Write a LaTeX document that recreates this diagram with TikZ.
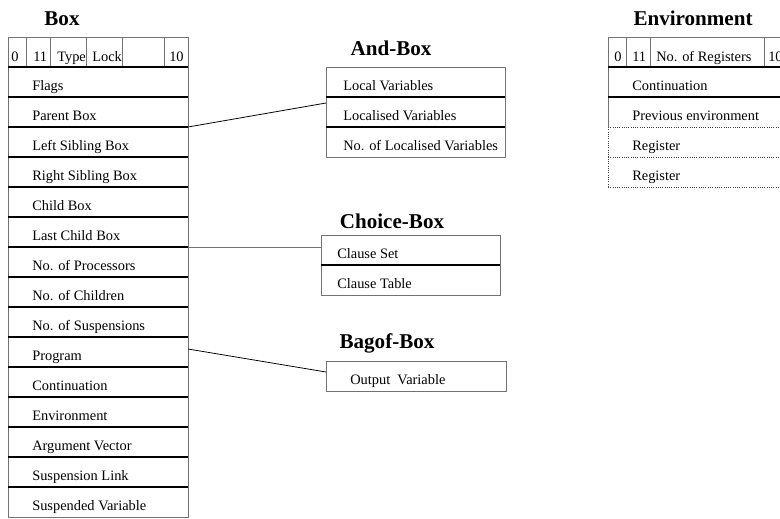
\documentclass[tikz,border=0pt]{standalone}
\usepackage{fontspec}
\setmainfont{Liberation Serif}
\usetikzlibrary{calc}
\tikzset{
  frame/.style={draw=black!55,line width=0.7pt},
  sep/.style={draw=black,line width=1.1pt},
  regline/.style={draw=black!75,densely dotted,line width=0.7pt},
  link/.style={draw=black,line width=0.6pt},
  field/.style={anchor=base west,inner sep=0pt,font=\fontsize{10.8}{13}\selectfont},
  title/.style={anchor=base,inner sep=0pt,font=\fontsize{15.8}{19}\selectfont\bfseries}
}
\begin{document}
\begin{tikzpicture}[x=0.75pt,y=-0.75pt]
      \useasboundingbox (0,0) rectangle (780,518);
      \clip (0,0) rectangle (780,518);
      % Box
      \node[title](boxTitle) at (62,25) {Box};
      \draw[frame](8,37) rectangle (188,517);
      \foreach \x in {26,50,86,122,164} \draw[frame](\x,37)--(\x,67);
      \foreach \y in {67,97,...,487} \draw[sep](8,\y)--(188,\y);
      \node[field](boxZero) at (11,61) {0};
      \node[field](boxEleven) at (33,61) {11};
      \node[field](boxType) at (57,61) {Type};
      \node[field](boxLock) at (92,61) {Lock};
      \node[field](boxTen) at (169,61) {10};
      \foreach \name [count=\i] in {Flags,Parent Box,Left Sibling Box,Right Sibling Box,Child Box,Last Child Box,No. of Processors,No. of Children,No. of Suspensions,Program,Continuation,Environment,Argument Vector,Suspension Link,Suspended Variable}
        \node[field](boxRow\i) at (32,{37+30*\i+23}) {\name};
      % And-Box
      \node[title](andTitle) at (391,55) {And-Box};
      \draw[frame](326,67) rectangle (505,157);
      \draw[sep](326,97)--(505,97);
      \draw[sep](326,127)--(505,127);
      \node[field](andLocal) at (343,90) {Local Variables};
      \node[field](andLocalised) at (343,120) {Localised Variables};
      \node[field](andCount) at (343,150) {No. of Localised Variables};
      % Choice-Box
      \node[title](choiceTitle) at (392,228) {Choice-Box};
      \draw[frame](321,235) rectangle (500,295);
      \draw[sep](321,265)--(500,265);
      \node[field](choiceSet) at (337,258) {Clause Set};
      \node[field](choiceTable) at (337,288) {Clause Table};
      % Bagof-Box
      \node[title](bagofTitle) at (387,348) {Bagof-Box};
      \draw[frame](326,361) rectangle (506,391);
      \node[field](bagofOut) at (350,384) {Output\ \ Variable};
      % Environment
      \node[title](envTitle) at (693,25) {Environment};
      \draw[frame](790,37)--(608,37)--(608,127);
      \draw[regline](608,127)--(608,187);
      \foreach \x in {626,650,764} \draw[frame](\x,37)--(\x,67);
      \draw[sep](608,67)--(790,67);
      \draw[sep](608,97)--(790,97);
      \foreach \y in {127,157,187} \draw[regline](608,\y)--(790,\y);
      \node[field](envZero) at (614,61) {0};
      \node[field](envEleven) at (632,61) {11};
      \node[field](envNum) at (656,61) {No. of Registers};
      \node[field](envTen) at (768,61) {10};
      \node[field](envCont) at (632,90) {Continuation};
      \node[field](envPrev) at (632,120) {Previous environment};
      \node[field](envRegA) at (632,150) {Register};
      \node[field](envRegB) at (632,180) {Register};
      % links
      \coordinate(boxParent) at (188,127);
      \coordinate(andIn) at (326,103);
      \coordinate(boxLast) at (188,247);
      \coordinate(choiceIn) at (321,247);
      \coordinate(boxProgram) at (188,349);
      \coordinate(bagofIn) at (326,372);
      \draw[link](boxParent)--(andIn);
      \draw[frame](boxLast)--(choiceIn);
      \draw[link](boxProgram)--(bagofIn);
    \end{tikzpicture}
\end{document}
